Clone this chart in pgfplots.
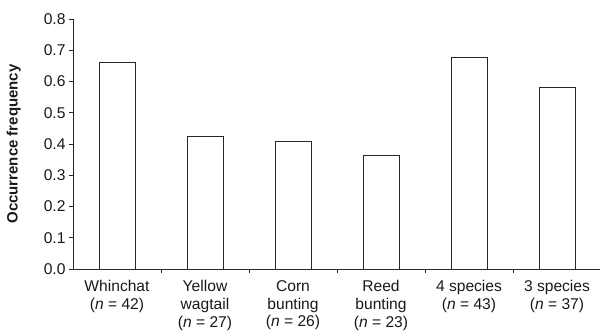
\documentclass[border=0pt]{standalone}
\usepackage{fontspec}
\setmainfont{Liberation Sans}
\usepackage{pgfplots}
\pgfplotsset{compat=1.18}
\begin{document}
\begin{tikzpicture}[x=1bp,y=1bp]
\path[use as bounding box] (0,0) rectangle (600,333);
\begin{axis}[
  at={(73bp,64bp)}, anchor=south west,
  scale only axis, width=528bp, height=250bp,
  xmin=-0.5, xmax=5.5, ymin=0, ymax=0.8,
  axis x line*=bottom, axis y line*=left,
  axis line style={-, black!85, line width=0.8bp},
  tick align=outside, major tick length=4bp,
  tick style={black!85, line width=0.8bp},
  ytick={0,0.1,0.2,0.3,0.4,0.5,0.6,0.7,0.8},
  yticklabel style={/pgf/number format/.cd, fixed, fixed zerofill, precision=1, assume math mode=true},
  xtick={0.5,1.5,2.5,3.5,4.5}, xticklabels={},
  extra x ticks={0,1,2,3,4,5},
  extra x tick labels={{Whinchat\\(\textit{n} = 42)},{Yellow\\wagtail\\(\textit{n} = 27)},{Corn\\bunting\\(\textit{n} = 26)},{Reed\\bunting\\(\textit{n} = 23)},{4 species\\(\textit{n} = 43)},{3 species\\(\textit{n} = 37)}},
  extra x tick style={major tick length=0pt},
  tick label style={font=\fontsize{15.6bp}{17.7bp}\selectfont, text=black!90},
  xticklabel style={align=center, anchor=north, yshift=-8bp},
  ylabel={Occurrence frequency},
  every axis y label/.style={at={(axis description cs:-0.112,0.5)}, rotate=90, anchor=center, font=\fontsize{15bp}{17.7bp}\selectfont\bfseries, text=black!90},
]
\addplot[ybar, bar width=36bp, draw=black!85, fill=white, line width=0.8bp]
  coordinates {(0,0.661) (1,0.425) (2,0.407) (3,0.364) (4,0.677) (5,0.582)};
\end{axis}
\end{tikzpicture}
\end{document}
